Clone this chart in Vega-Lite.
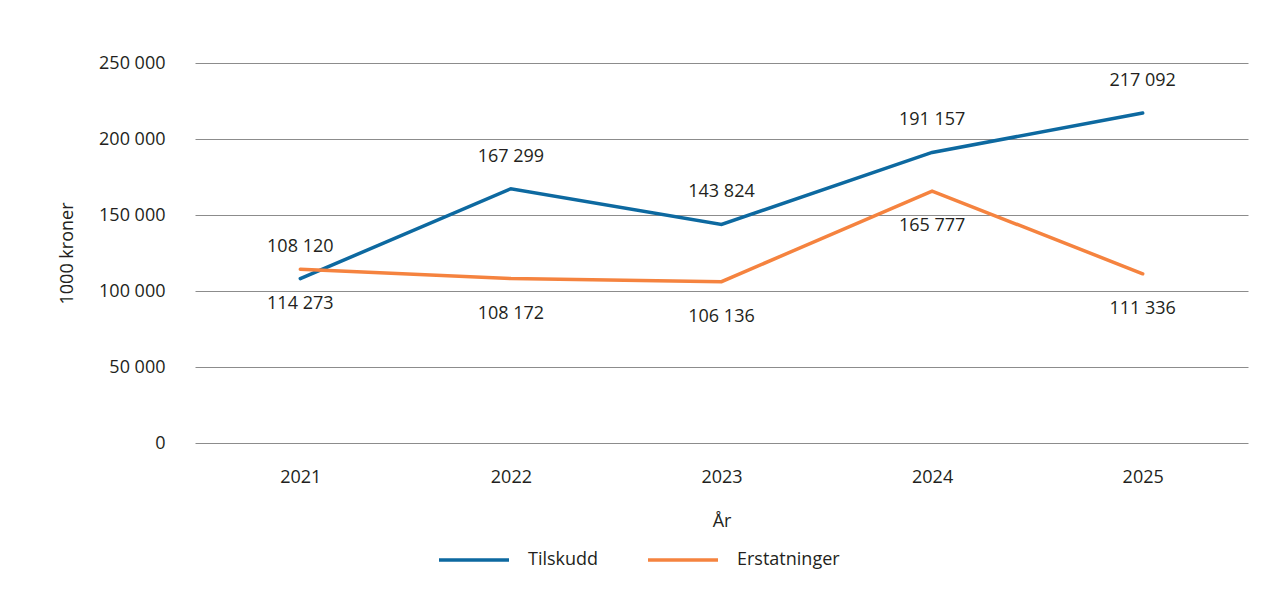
{
  "$schema": "https://vega.github.io/schema/vega-lite/v6.json",
  "autosize": "none",
  "width": 1053,
  "height": 380,
  "padding": {"left": 195, "top": 63, "right": 25, "bottom": 167},
  "background": "white",
  "config": {
    "locale": {"number": {"decimal": ",", "thousands": " ", "grouping": [3], "currency": ["", " kr"]}},
    "font": "Open Sans",
    "view": {"stroke": null},
    "axis": {
      "labelFont": "Open Sans",
      "titleFont": "Open Sans",
      "labelFontSize": 18,
      "titleFontSize": 18,
      "titleFontWeight": "normal",
      "labelColor": "#231f20",
      "titleColor": "#231f20"
    },
    "legend": {"labelFont": "Open Sans", "labelFontSize": 18, "labelColor": "#231f20"}
  },
  "data": {
    "values": [
      {"year": "2021", "serie": "Tilskudd", "value": 108120},
      {"year": "2022", "serie": "Tilskudd", "value": 167299},
      {"year": "2023", "serie": "Tilskudd", "value": 143824},
      {"year": "2024", "serie": "Tilskudd", "value": 191157},
      {"year": "2025", "serie": "Tilskudd", "value": 217092},
      {"year": "2021", "serie": "Erstatninger", "value": 114273},
      {"year": "2022", "serie": "Erstatninger", "value": 108172},
      {"year": "2023", "serie": "Erstatninger", "value": 106136},
      {"year": "2024", "serie": "Erstatninger", "value": 165777},
      {"year": "2025", "serie": "Erstatninger", "value": 111336}
    ]
  },
  "encoding": {
    "x": {
      "field": "year",
      "type": "ordinal",
      "scale": {"type": "point", "padding": 0.5},
      "axis": {
        "title": "År",
        "labelAngle": 0,
        "domain": false,
        "ticks": false,
        "grid": false,
        "labelPadding": 25,
        "titleY": 78,
        "titleBaseline": "middle"
      }
    },
    "y": {
      "field": "value",
      "type": "quantitative",
      "scale": {"domain": [0, 250000]},
      "axis": {
        "title": "1000 kroner",
        "values": [0, 50000, 100000, 150000, 200000, 250000],
        "format": ",d",
        "domain": false,
        "ticks": false,
        "labelPadding": 30,
        "grid": true,
        "gridColor": "#8c8c8c",
        "gridWidth": 1,
        "titleX": -128,
        "titleY": 190,
        "titleAngle": -90,
        "titleAlign": "center",
        "titleBaseline": "middle"
      }
    }
  },
  "layer": [
    {
      "mark": {"type": "line", "strokeWidth": 3.5, "strokeCap": "round"},
      "encoding": {
        "color": {
          "field": "serie",
          "type": "nominal",
          "scale": {"domain": ["Tilskudd", "Erstatninger"], "range": ["#0d69a0", "#f5833f"]},
          "legend": {
            "title": null,
            "orient": "none",
            "direction": "horizontal",
            "legendX": 242,
            "legendY": 460,
            "symbolType": "stroke",
            "symbolSize": 4900,
            "symbolStrokeWidth": 3.5,
            "labelOffset": 17,
            "columnPadding": 42
          }
        }
      }
    },
    {
      "transform": [{"filter": "datum.serie === 'Tilskudd'"}],
      "mark": {"type": "text", "dy": -32, "fontSize": 18, "color": "#231f20", "baseline": "middle"},
      "encoding": {"text": {"field": "value", "type": "quantitative", "format": ",d"}}
    },
    {
      "transform": [{"filter": "datum.serie === 'Erstatninger'"}],
      "mark": {"type": "text", "dy": 35, "fontSize": 18, "color": "#231f20", "baseline": "middle"},
      "encoding": {"text": {"field": "value", "type": "quantitative", "format": ",d"}}
    }
  ]
}
